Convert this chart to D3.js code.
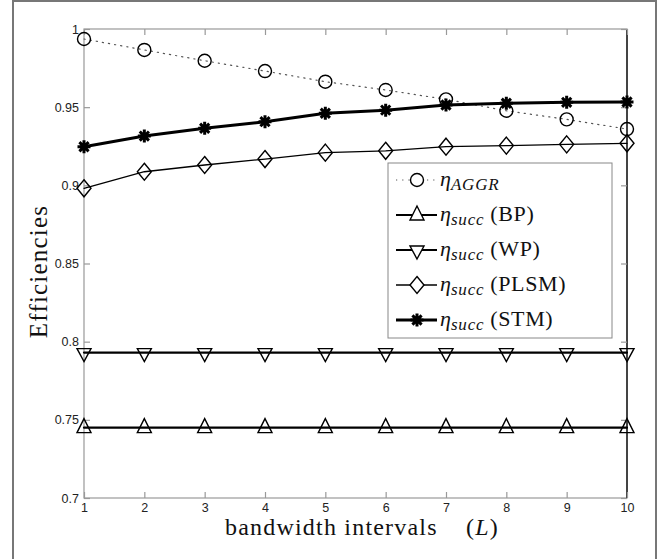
<!DOCTYPE html>
<html>
<head>
<meta charset="utf-8">
<script src="https://cdn.jsdelivr.net/npm/d3@7"></script>
<style>
  body { margin: 0; background: #fff; }
  svg { display: block; }
</style>
</head>
<body>
<div id="chart"></div>
<script>
// data
var L = [1, 2, 3, 4, 5, 6, 7, 8, 9, 10];
var etaAggr = [0.9936, 0.9866, 0.9797, 0.9731, 0.9663, 0.9610, 0.9550, 0.9477, 0.9422, 0.9360];
var etaBP   = [0.745, 0.745, 0.745, 0.745, 0.745, 0.745, 0.745, 0.745, 0.745, 0.745];
var etaWP   = [0.793, 0.793, 0.793, 0.793, 0.793, 0.793, 0.793, 0.793, 0.793, 0.793];
var etaPLSM = [0.8981, 0.9087, 0.9130, 0.9168, 0.9209, 0.9221, 0.9247, 0.9254, 0.9262, 0.9269];
var etaSTM  = [0.9247, 0.9315, 0.9365, 0.9407, 0.9461, 0.9481, 0.9514, 0.9525, 0.9531, 0.9533];
var yTicks = [0.7, 0.75, 0.8, 0.85, 0.9, 0.95, 1];
var xTicks = [1, 2, 3, 4, 5, 6, 7, 8, 9, 10];

var W = 672, H = 559;
var margin = {top: 29, right: 45, bottom: 61, left: 84},
    width = W - margin.left - margin.right,
    height = H - margin.top - margin.bottom;

var serif = "Liberation Serif, Times New Roman, serif";

var svg = d3.select("#chart").append("svg")
    .attr("width", W)
    .attr("height", H);

// outer grey frame
svg.append("rect")
    .attr("x", 13).attr("y", 1)
    .attr("width", 643).attr("height", 600)
    .attr("fill", "none")
    .attr("stroke", "#777")
    .attr("stroke-width", 2);

var g = svg.append("g")
    .attr("transform", "translate(" + margin.left + "," + margin.top + ")");

var x = d3.scaleLinear().domain([1, 10]).range([0, width]);
var y = d3.scaleLinear().domain([0.7, 1]).range([height, 0]);

// box around the plot
g.append("rect")
    .attr("width", width).attr("height", height)
    .attr("fill", "none")
    .attr("stroke", "#999")
    .attr("stroke-width", 1.2);
g.append("line")
    .attr("x1", width).attr("x2", width)
    .attr("y1", 0).attr("y2", height)
    .attr("stroke", "#000").attr("stroke-width", 1.3);

// axes, ticks pointing inside (matlab style)
var xAxis = g.append("g")
    .attr("transform", "translate(0," + height + ")")
    .call(d3.axisBottom(x).tickValues(xTicks).tickSize(-6).tickPadding(3).tickFormat(d3.format("d")));
var xTop = g.append("g")
    .call(d3.axisTop(x).tickValues(xTicks).tickSize(-6).tickFormat(""));
var yAxis = g.append("g")
    .call(d3.axisLeft(y).tickValues(yTicks).tickSize(-6).tickPadding(6)
      .tickFormat(function(d) { return d === 1 ? "1" : String(d); }));
var yRight = g.append("g")
    .attr("transform", "translate(" + width + ",0)")
    .call(d3.axisRight(y).tickValues(yTicks).tickSize(-6).tickFormat(""));

[xAxis, xTop, yAxis, yRight].forEach(function(a) {
  a.select(".domain").remove();
  a.selectAll(".tick line").attr("stroke", "#999").attr("stroke-width", 1.2);
  a.selectAll(".tick text")
    .attr("font-family", "Liberation Sans, Arial, sans-serif")
    .attr("font-size", 12.5)
    .attr("fill", "#222");
});
xAxis.selectAll(".tick text").attr("dy", "0.85em");
yAxis.selectAll(".tick text").attr("dx", "1px");

// marker shapes
function markerPath(type) {
  if (type === "circle") return d3.symbol().type(d3.symbolCircle).size(Math.PI * 6.5 * 6.5)();
  if (type === "up") return "M0,-9L7,5L-7,5Z";
  if (type === "down") return "M0,9L7,-4L-7,-4Z";
  if (type === "diamond") return "M0,-8.5L7,0L0,8.5L-7,0Z";
  if (type === "star") {
    var r = 6.5, s = r * Math.SQRT1_2;
    return "M" + (-r) + ",0L" + r + ",0M0," + (-r) + "L0," + r +
           "M" + (-s) + "," + (-s) + "L" + s + "," + s +
           "M" + (-s) + "," + s + "L" + s + "," + (-s);
  }
}

var series = [
  {name: "AGGR", values: etaAggr, marker: "circle", width: 1.2, dash: "1.2,5", color: "#555", mw: 1.4},
  {name: "BP", values: etaBP, marker: "up", width: 2.2, dash: null, color: "#000", mw: 1.4},
  {name: "WP", values: etaWP, marker: "down", width: 2.2, dash: null, color: "#000", mw: 1.4},
  {name: "PLSM", values: etaPLSM, marker: "diamond", width: 1.3, dash: null, color: "#000", mw: 1.4},
  {name: "STM", values: etaSTM, marker: "star", width: 3, dash: null, color: "#000", mw: 3}
];

var line = d3.line()
    .x(function(d, i) { return x(L[i]); })
    .y(function(d) { return y(d); });

series.forEach(function(s) {
  g.append("path")
    .datum(s.values)
    .attr("fill", "none")
    .attr("stroke", s.color)
    .attr("stroke-width", s.width)
    .attr("stroke-dasharray", s.dash)
    .attr("stroke-linecap", "round")
    .attr("d", line);

  g.selectAll(null)
    .data(s.values)
    .enter()
    .append("path")
      .attr("transform", function(d, i) { return "translate(" + x(L[i]) + "," + y(d) + ")"; })
      .attr("d", markerPath(s.marker))
      .attr("fill", "none")
      .attr("stroke", "#000")
      .attr("stroke-width", s.mw);
});

// legend
var leg = svg.append("g").attr("transform", "translate(388,163)");
leg.append("rect")
    .attr("width", 224).attr("height", 175)
    .attr("fill", "#fff")
    .attr("stroke", "#888")
    .attr("stroke-width", 1);

var labels = [null, "(BP)", "(WP)", "(PLSM)", "(STM)"];
series.forEach(function(s, i) {
  var ly = 17 + i * 35;
  leg.append("line")
    .attr("x1", 8).attr("x2", 49)
    .attr("y1", ly).attr("y2", ly)
    .attr("stroke", s.color)
    .attr("stroke-width", s.width)
    .attr("stroke-dasharray", s.dash);
  leg.append("path")
    .attr("transform", "translate(29," + ly + ")")
    .attr("d", markerPath(s.marker))
    .attr("fill", s.marker === "star" ? "none" : "#fff")
    .attr("stroke", "#000")
    .attr("stroke-width", s.mw);

  var t = leg.append("text")
    .attr("x", 52).attr("y", ly + 6)
    .attr("font-family", serif)
    .attr("font-size", 22)
    .attr("fill", "#111");
  t.append("tspan").attr("font-style", "italic").text("\u03b7");
  t.append("tspan")
    .attr("font-style", "italic")
    .attr("font-size", 17)
    .attr("letter-spacing", 0.8)
    .attr("dy", 4)
    .text(i === 0 ? "AGGR" : "succ");
  if (labels[i]) {
    t.append("tspan").attr("dy", -4).attr("dx", 6).attr("letter-spacing", 0.6).text(labels[i]);
  }
});

// axis titles
var xt = svg.append("text")
    .attr("x", 225)
    .attr("y", 535)
    .attr("font-family", serif)
    .attr("font-size", 24)
    .attr("letter-spacing", 1.2)
    .attr("fill", "#111");
xt.append("tspan").text("bandwidth intervals");
xt.append("tspan").attr("x", 466).text("(");
xt.append("tspan").attr("font-style", "italic").text("L");
xt.append("tspan").text(")");

svg.append("text")
    .attr("transform", "translate(47," + (margin.top + height / 2 + 8) + ") rotate(-90)")
    .attr("text-anchor", "middle")
    .attr("font-family", serif)
    .attr("font-size", 25)
    .attr("letter-spacing", 1.2)
    .attr("fill", "#111")
    .text("Efficiencies");
</script>
</body>
</html>
